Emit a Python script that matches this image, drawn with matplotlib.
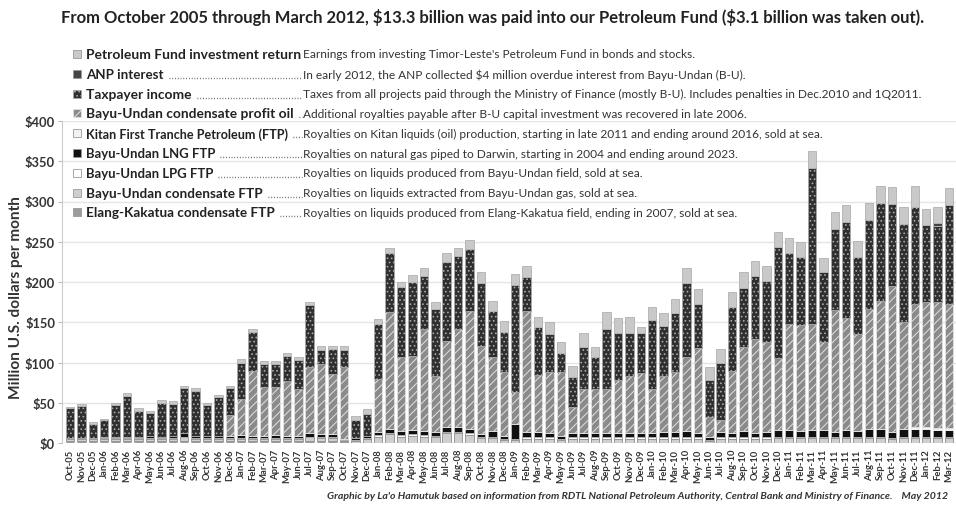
import matplotlib
matplotlib.use("Agg")
import matplotlib.pyplot as plt
from matplotlib.patches import Rectangle
from matplotlib.lines import Line2D
import numpy as np
import pandas as pd

plt.rcParams["font.family"] = ["Lato", "DejaVu Sans"]
plt.rcParams["hatch.linewidth"] = 0.7

# --- data (million US$ per month), Oct-05 .. Mar-12 ---
months = pd.date_range("2005-10-01", "2012-03-01", freq="MS").strftime("%b-%y").tolist()

elang_ftp = [2, 2, 2,
             2, 2, 2, 2, 2, 2, 2, 2, 2, 2, 2, 2,
             2, 2, 2, 2, 2, 2, 2, 2, 2, 1, 0, 0,
             0, 0, 0, 0, 0, 0, 0, 0, 0, 0, 0, 0,
             0, 0, 0, 0, 0, 0, 0, 0, 0, 0, 0, 0,
             0, 0, 0, 0, 0, 0, 0, 0, 0, 0, 0, 0,
             0, 0, 0, 0, 0, 0, 0, 0, 0, 0, 0, 0,
             0, 0, 0]
bu_cond_ftp = [3, 3, 3,
               3, 3, 3, 3, 3, 3, 3, 5, 3, 3, 3, 3,
               3, 3, 3, 3, 3, 3, 5, 4, 4, 2, 3, 5,
               8, 11, 8, 9, 8, 7, 12, 12, 10, 6, 6, 4,
               4, 5, 5, 5, 4, 5, 5, 5, 5, 5, 5, 5,
               5, 5, 5, 5, 5, 3, 5, 5, 5, 5, 5, 6,
               6, 6, 6, 6, 6, 6, 6, 6, 6, 5, 6, 6,
               6, 6, 6]
bu_lpg_ftp = [1, 1, 1,
              1, 1, 1, 1, 1, 1, 1, 1, 1, 1, 1, 1,
              1, 1, 1, 1, 1, 1, 1, 1, 1, 1, 1, 1,
              2, 2, 2, 2, 2, 2, 2, 2, 2, 2, 2, 1,
              1, 2, 2, 2, 1, 2, 2, 2, 2, 2, 2, 2,
              2, 2, 2, 2, 2, 1, 2, 2, 2, 2, 2, 2,
              2, 2, 2, 2, 2, 2, 2, 2, 2, 1, 2, 2,
              2, 2, 2]
bu_lng_ftp = [0, 0, 0,
              1, 2, 2, 2, 3, 2, 3, 4, 3, 3, 3, 3,
              4, 3, 3, 4, 3, 3, 4, 4, 4, 1, 2, 3,
              4, 5, 5, 5, 5, 5, 6, 6, 6, 3, 7, 4,
              18, 7, 7, 6, 4, 5, 6, 5, 6, 6, 6, 6,
              6, 7, 7, 8, 6, 3, 7, 6, 8, 6, 7, 8,
              8, 7, 8, 8, 6, 8, 7, 9, 10, 8, 9, 9,
              9, 8, 8]
kitan_ftp = [0, 0, 0,
             0, 0, 0, 0, 0, 0, 0, 0, 0, 0, 0, 0,
             0, 0, 0, 0, 0, 0, 0, 0, 0, 0, 0, 0,
             0, 0, 0, 0, 0, 0, 0, 0, 0, 0, 0, 0,
             0, 0, 0, 0, 0, 0, 0, 0, 0, 0, 0, 0,
             0, 0, 0, 0, 0, 0, 0, 0, 0, 0, 0, 0,
             0, 0, 0, 0, 0, 0, 0, 0, 0, 0, 0, 3,
             3, 3, 3]
profit_oil = [0, 0, 0,
              0, 0, 0, 0, 0, 0, 0, 0, 0, 0, 0, 26,
              45, 81, 61, 60, 68, 58, 82, 87, 75, 89, 0, 0,
              66, 145, 92, 92, 127, 69, 107, 122, 146, 109, 92, 79,
              40, 150, 70, 75, 79, 33, 54, 55, 54, 65, 70, 74,
              54, 69, 74, 92, 105, 25, 14, 77, 104, 116, 111, 89,
              132, 131, 132, 109, 151, 139, 120, 150, 159, 181, 133, 153,
              155, 156, 154]
taxpayer = [37, 40, 18,
            21, 39, 51, 32, 28, 42, 40, 56, 56, 38, 48, 33,
            45, 48, 28, 28, 31, 36, 77, 18, 31, 22, 22, 27,
            68, 73, 87, 92, 66, 84, 98, 90, 77, 79, 57, 50,
            133, 42, 60, 48, 24, 37, 52, 40, 75, 59, 54, 50,
            86, 62, 74, 92, 55, 46, 71, 79, 74, 78, 76, 138,
            88, 85, 194, 87, 101, 120, 96, 110, 121, 102, 122, 120,
            96, 94, 123]
anp_interest = [0, 0, 0,
                0, 0, 0, 0, 0, 0, 0, 0, 0, 0, 0, 0,
                0, 0, 0, 0, 0, 0, 0, 0, 0, 0, 0, 0,
                0, 0, 0, 0, 0, 0, 0, 0, 0, 0, 0, 0,
                0, 0, 0, 0, 0, 0, 0, 0, 0, 0, 0, 0,
                0, 0, 0, 0, 0, 0, 0, 0, 0, 0, 0, 0,
                0, 0, 0, 0, 0, 0, 0, 0, 0, 0, 0, 0,
                0, 4, 0]
pf_return = [2, 2, 2,
             2, 3, 3, 3, 3, 3, 3, 3, 3, 3, 3, 3,
             4, 4, 4, 4, 4, 4, 4, 4, 4, 4, 5, 6,
             6, 6, 6, 9, 9, 8, 11, 10, 11, 13, 12, 13,
             14, 14, 13, 14, 14, 14, 18, 12, 21, 18, 19, 7,
             16, 16, 17, 18, 18, 17, 18, 19, 19, 19, 19, 19,
             19, 19, 21, 18, 21, 21, 20, 21, 21, 21, 21, 26,
             20, 20, 21]

# (label, description, values, face, edge/hatch colour, hatch), bottom to top
series = [
    ("Elang-Kakatua condensate FTP",
     "Royalties on liquids produced from Elang-Kakatua field, ending in 2007, sold at sea.",
     elang_ftp, "#9c9c9c", "#c4c4c4", None),
    ("Bayu-Undan condensate FTP",
     "Royalties on liquids extracted from Bayu-Undan gas, sold at sea.",
     bu_cond_ftp, "#cfcfcf", "#8e8e8e", None),
    ("Bayu-Undan LPG FTP",
     "Royalties on liquids produced from Bayu-Undan field, sold at sea.",
     bu_lpg_ftp, "#ffffff", "#8e8e8e", None),
    ("Bayu-Undan LNG FTP",
     "Royalties on natural gas piped to Darwin, starting in 2004 and ending around 2023.",
     bu_lng_ftp, "#111111", "#bdbdbd", None),
    ("Kitan First Tranche Petroleum (FTP)",
     "Royalties on Kitan liquids (oil) production, starting in late 2011 and ending around 2016, sold at sea.",
     kitan_ftp, "#f2f2f2", "#f2f2f2", None),
    ("Bayu-Undan condensate profit oil",
     "Additional royalties payable after B-U capital investment was recovered in late 2006.",
     profit_oil, "#8a8a8a", "#e2e2e2", "////"),
    ("Taxpayer income",
     "Taxes from all projects paid through the Ministry of Finance (mostly B-U). Includes penalties in Dec.2010 and 1Q2011.",
     taxpayer, "#2f2f2f", "#a8a8a8", "...."),
    ("ANP interest",
     "In early 2012, the ANP collected \\$4 million overdue interest from Bayu-Undan (B-U).",
     anp_interest, "#454545", "#bdbdbd", None),
    ("Petroleum Fund investment return",
     "Earnings from investing Timor-Leste's Petroleum Fund in bonds and stocks.",
     pf_return, "#c9c9c9", "#b0b0b0", None),
]

# legend label widths in the layout (pixels), top row first
label_widths = [213, 77, 105, 207, 201, 130, 127, 176, 188]

W, H = 956, 506
fig = plt.figure(figsize=(W / 100, H / 100), dpi=100)
fig.patch.set_facecolor("white")
ax = fig.add_axes([62 / W, 62 / H, 895 / W, 322 / H])

x = np.arange(len(months))
bottom = np.zeros(len(months))
for label, desc, vals, face, edge, hatch in series:
    vals = np.array(vals, dtype=float)
    ax.bar(x, vals, bottom=bottom, width=0.74, color=face, edgecolor=edge,
           linewidth=0.6, hatch=hatch, zorder=3)
    bottom += vals

ax.set_xlim(-0.7, len(months) - 0.3)
ax.set_ylim(0, 400)
ax.set_yticks(range(0, 401, 50))
ax.set_yticklabels([f"${v}" for v in range(0, 401, 50)], fontsize=9.3,
                   fontweight="bold", color="#333333")
ax.set_xticks(x)
ax.set_xticklabels(months, rotation=90, fontsize=6.8, fontweight="bold",
                   color="#333333")
ax.tick_params(axis="x", length=0, pad=4)
ax.tick_params(axis="y", length=3, color="#bbbbbb", pad=2)
ax.grid(axis="y", color="#e4e4e4", linewidth=1, zorder=0)
for side in ("top", "right", "bottom"):
    ax.spines[side].set_visible(False)
ax.spines["left"].set_color("#cccccc")

renderer = fig.canvas.get_renderer()


def fit(txt, target, vertical=False):
    bb = txt.get_window_extent(renderer)
    size = bb.height if vertical else bb.width
    txt.set_fontsize(txt.get_fontsize() * target / size)
    return txt


title = fig.text(493 / W, 1 - 18 / H,
                 "From October 2005 through March 2012, \\$13.3 billion was paid into our "
                 "Petroleum Fund (\\$3.1 billion was taken out).",
                 ha="center", va="center", fontsize=12, fontweight="bold", color="#222222")
fit(title, 862)

ylab = fig.text(16 / W, 1 - 298 / H, "Million U.S. dollars per month", rotation=90,
                ha="center", va="center", fontsize=10, fontweight="bold", color="#333333")
fit(ylab, 203, vertical=True)

credit = fig.text(948 / W, 1 - 497 / H,
                  "Graphic by La'o Hamutuk based on information from RDTL National Petroleum "
                  "Authority, Central Bank and Ministry of Finance.    May 2012",
                  ha="right", va="center", fontsize=7, fontweight="bold", style="italic",
                  color="#333333")
fit(credit, 623)

# one common size for the descriptions, set by the longest one
label_x, desc_x = 86, 303
probe = fig.text(0, 0, series[6][1], fontsize=8.6)
desc_size = fit(probe, 614).get_fontsize()
probe.remove()

# legend table, top row first
for i, (label, desc, vals, face, edge, hatch) in enumerate(reversed(series)):
    yc = 55 + 19.8 * i
    fig.patches.append(Rectangle((73 / W, 1 - (yc + 4) / H), 8 / W, 8 / H,
                                 transform=fig.transFigure, facecolor=face,
                                 edgecolor="#9a9a9a" if hatch is None else edge,
                                 hatch=hatch, linewidth=0.6))
    t = fig.text(label_x / W, 1 - yc / H, label, ha="left", va="center",
                 fontsize=11, fontweight="bold", color="#222222")
    fit(t, label_widths[i])
    fig.text(desc_x / W, 1 - yc / H, desc, ha="left", va="center",
             fontsize=desc_size, color="#333333")
    bb = t.get_window_extent(renderer)
    if desc_x - bb.x1 > 8:
        ybase = 1 - (yc + 4) / H
        fig.lines.append(Line2D([(bb.x1 + 5) / W, (desc_x - 1) / W], [ybase, ybase],
                                transform=fig.transFigure, color="#555555",
                                linestyle=(0, (0.6, 1.4)), linewidth=1.0))

fig.savefig("out.png", dpi=100)
